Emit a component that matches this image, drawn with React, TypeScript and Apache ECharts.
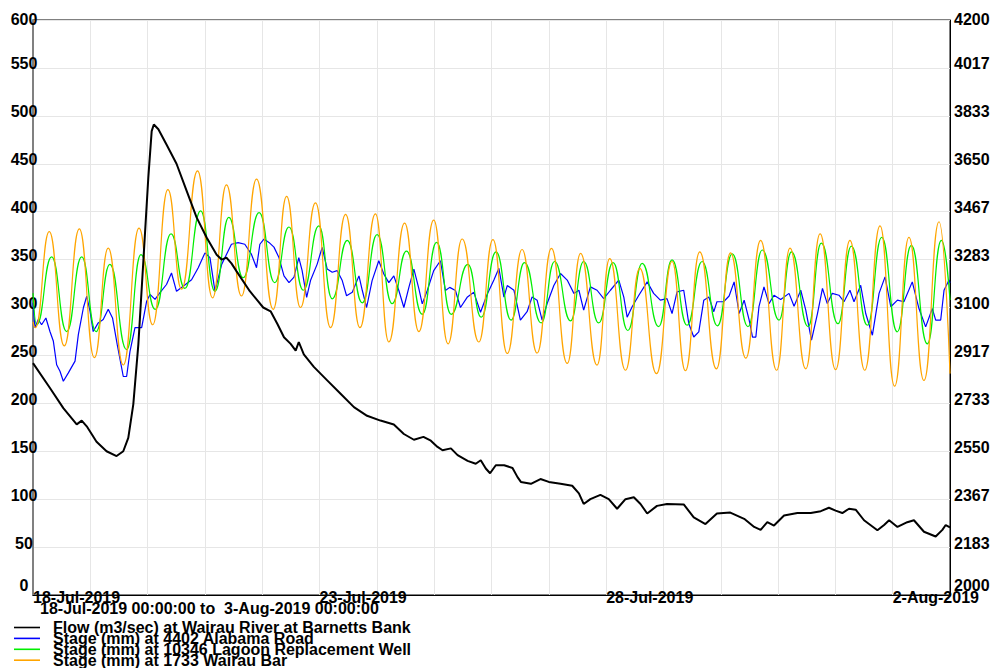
import React, { useEffect, useRef } from 'react';
import * as echarts from 'echarts';

const FONT = '"Liberation Sans", Arial, Helvetica, sans-serif';

const xTickLabels = ['18-Jul-2019', '23-Jul-2019', '28-Jul-2019', '2-Aug-2019'];
const periodText = '18-Jul-2019 00:00:00 to  3-Aug-2019 00:00:00';
const seriesNames = [
  'Flow (m3/sec) at Wairau River at Barnetts Bank',
  'Stage (mm) at 4402 Alabama Road',
  'Stage (mm) at 10346 Lagoon Replacement Well',
  'Stage (mm) at 1733 Wairau Bar',
];
const seriesColors = ['#000000', '#0000ff', '#00ee00', '#ffa500'];

// hours after 18-Jul-2019 00:00
const flowHours = [0, 7.1, 12.7, 18.3, 20.4, 22.5, 26.6, 30.8, 35, 37.8, 39.9, 42, 44.1, 46.2, 48.3, 49.7, 50.6, 52.5, 55.9, 60.1, 64.3, 68.5, 72.7, 76.9, 79, 81, 83.1, 85.2, 90.8, 96.4, 99.5, 102.3, 105.1, 107.9, 110, 111.3, 113.4, 117.6, 123.2, 128.8, 134.4, 139.9, 145.5, 151.1, 155.3, 159.5, 163.5, 166.6, 169.4, 171.5, 175, 177.8, 182, 185.4, 187.5, 189.6, 191.4, 193.8, 197.3, 200.8, 202.9, 204.3, 208.5, 212.5, 216, 220.9, 225.8, 228.6, 230.6, 233.4, 237.6, 241.1, 244.6, 248.1, 251.6, 254.4, 257.2, 261.3, 265.5, 272.5, 276.7, 281.6, 286.4, 292, 297.8, 302, 304.7, 307.5, 310.3, 314.5, 320.1, 325.7, 329.9, 333.3, 336.1, 338.9, 341.7, 344.5, 348, 353.6, 356.4, 358.5, 362, 366.1, 368.9, 373.1, 378, 380.8, 382.2, 384];
const flowValues = [242, 216, 195, 178, 182, 176, 160, 150, 145, 150, 164, 199, 261, 348, 436, 484, 491, 486, 470, 450, 422, 394, 373, 355, 350, 352, 346, 338, 317, 300, 296, 283, 269, 262, 255, 264, 251, 238, 224, 210, 196, 187, 182, 178, 168, 162, 165, 161, 154.5, 151, 153, 146, 140, 137, 140.6, 132, 127, 135.4, 135.4, 132.6, 123, 118, 116, 121, 118, 116, 114, 106, 95, 100, 104.5, 100, 90, 100, 102, 95, 85, 93, 95, 94.5, 81, 74, 85, 86, 79.5, 71, 68, 76, 72.5, 83, 85.5, 85.5, 87.5, 91, 88, 85.5, 90, 89, 78, 67.5, 73, 78, 71, 76, 78, 66, 61, 68, 73, 70.5];

const alabamaHours = [
  0, 0.8, 2.2, 3.6, 5.4, 7.1, 8.5, 9.9, 11.3, 12.7,
  14.8, 17.6, 19, 21.1, 22.5, 23.9, 25.2, 27.3, 29.4, 31.5,
  33.3, 35.3, 37.8, 39.2, 40.6, 42.7, 45.5, 47.6, 49, 51.1,
  53.1, 55.9, 58, 60.1, 62.9, 66.4, 69.2, 72, 74.1, 76.2,
  79, 83.1, 85.9, 88.7, 91.5, 93.6, 95, 96.7, 98.8, 100.9,
  103, 105.1, 107.2, 109.3, 111.3, 112.7, 114.6, 116.2, 119, 121.1,
  123.2, 125.3, 127.4, 129.5, 131.3, 133.7, 136.5, 137.9, 139.7, 142,
  144.8, 146.9, 149, 151.1, 153.2, 155.3, 157.4, 159.5, 161.6, 163,
  165.1, 167.8, 170.6, 172.7, 174.5, 176.9, 179, 181.8, 184.6, 187.4,
  190.2, 193, 195.1, 197.2, 198.6, 201.4, 204.1, 206.9, 209, 211.1,
  213.2, 215.3, 218.1, 220.9, 223.7, 226.5, 228.6, 230.6, 233.4, 236.2,
  239, 241.8, 245.3, 247.4, 248.8, 250.9, 253.7, 257.2, 259.9, 262.7,
  265.5, 267.6, 269.7, 272.5, 274.6, 276.7, 278.8, 280.9, 283, 285.1,
  286.4, 289.2, 291.5, 293.6, 295.7, 297.8, 299.9, 301.3, 302.7, 304,
  306.1, 308.2, 310.3, 313.1, 316.6, 318.7, 321.5, 323.6, 326, 328.5,
  330.6, 332.6, 334.7, 337.5, 339.6, 342.1, 343.8, 346.6, 348.7, 351.5,
  354.3, 356.8, 359.2, 362, 364.7, 368.2, 371, 373.8, 376.6, 378,
  380.1, 381.5, 383.6, 384,
];
const alabamaValues = [
  3118, 3023, 3054, 3034, 3060, 3008, 2972, 2881, 2856, 2818,
  2850, 2895, 2997, 3099, 3143, 3085, 3008, 3041, 3054, 3093,
  3060, 2957, 2836, 2836, 2931, 3023, 3023, 3124, 3150, 3131,
  3156, 3188, 3232, 3162, 3181, 3206, 3252, 3309, 3291, 3162,
  3265, 3342, 3348, 3342, 3303, 3252, 3342, 3362, 3349, 3331,
  3291, 3221, 3195, 3216, 3291, 3241, 3139, 3203, 3266, 3330,
  3247, 3235, 3241, 3203, 3145, 3158, 3221, 3165, 3100, 3203,
  3279, 3228, 3195, 3221, 3165, 3100, 3177, 3247, 3171, 3114,
  3165, 3241, 3279, 3165, 3177, 3165, 3100, 3139, 3158, 3082,
  3151, 3205, 3250, 3140, 3184, 3166, 3052, 3084, 3140, 3128,
  3052, 3115, 3184, 3230, 3205, 3154, 3166, 3090, 3179, 3166,
  3134, 3166, 3205, 3140, 3063, 3103, 3147, 3198, 3154, 3128,
  3134, 3077, 3160, 3166, 3039, 2987, 3007, 3128, 3140, 3084,
  3122, 3122, 3144, 3198, 3077, 3128, 3052, 2987, 2987, 3103,
  3179, 3115, 3147, 3131, 3154, 3105, 3166, 3090, 2975, 3077,
  3173, 3115, 3154, 3147, 3122, 3166, 3122, 3185, 3077, 2994,
  3154, 3217, 3103, 3128, 3122, 3198, 3096, 3026, 3096, 3052,
  3052, 3166, 3205, 3195,
];

const lagoonHours = [0, 1.5, 7.8, 14.1, 20.4, 26.4, 32.2, 39.2, 45.2, 51.2, 57.8, 63.6, 70.2, 76.2, 82, 88, 94.7, 101.2, 107.2, 113.2, 119.7, 125.3, 131.6, 137.9, 144.1, 150.4, 156.4, 163, 169, 175.1, 182.1, 187.7, 193.9, 200.2, 205.8, 212.8, 218.4, 225.1, 230.6, 236.9, 242.9, 249.1, 255.1, 262, 267.6, 273.9, 280.2, 286.6, 292.8, 299.4, 305.4, 312.4, 317.6, 324.6, 330.1, 337.1, 342.7, 349.4, 355.4, 361.9, 367.8, 374.5, 380.4, 384];
const lagoonValues = [3155, 3034, 3294, 3008, 3294, 3008, 3265, 2939, 3302, 3093, 3382, 3173, 3470, 3162, 3445, 3214, 3463, 3195, 3408, 3166, 3412, 3133, 3357, 3118, 3379, 3115, 3316, 3074, 3349, 3074, 3265, 3063, 3313, 3052, 3272, 3041, 3276, 3049, 3276, 3041, 3272, 3012, 3269, 3027, 3282, 3032, 3276, 3030, 3305, 3027, 3320, 3052, 3313, 3027, 3346, 3038, 3335, 3032, 3368, 3007, 3338, 2961, 3357, 3129];

const barHours = [0, 1, 6.8, 13.1, 19.4, 25.7, 31.5, 37.8, 44.4, 50.1, 56.5, 62.2, 68.9, 75.2, 81, 87.3, 93.6, 100.6, 106.2, 112, 118.3, 124.6, 130.9, 136.9, 143.4, 149, 155.6, 161.6, 167.8, 173.8, 179.7, 186.7, 192.6, 198.6, 204.8, 211.1, 217.1, 223.7, 229.3, 236.2, 241.5, 248.1, 254.1, 261.1, 267.6, 273.2, 279.2, 286.2, 292.1, 298.5, 304.7, 311.4, 317, 323.6, 329.6, 336.1, 342.1, 348.3, 354.7, 360.8, 366.8, 373.1, 379.4, 384];
const barValues = [3045, 3023, 3390, 2953, 3401, 2908, 3327, 2880, 3404, 3034, 3551, 3170, 3623, 3137, 3569, 3144, 3591, 3093, 3525, 3100, 3500, 3023, 3456, 3023, 3458, 2968, 3423, 3008, 3434, 2961, 3362, 2968, 3360, 2924, 3322, 2926, 3326, 2886, 3307, 2880, 3287, 2860, 3250, 2847, 3276, 2858, 3313, 2865, 3309, 2906, 3357, 2860, 3327, 2865, 3382, 2862, 3357, 2860, 3412, 2799, 3368, 2821, 3428, 2847];

function pairs(h: number[], v: number[]) {
  const n = Math.min(h.length, v.length);
  const out: number[][] = [];
  for (let i = 0; i < n; i++) out.push([h[i], v[i]]);
  return out;
}

const labelFont = { fontSize: 16, fontWeight: 'bold' as const, fontFamily: FONT, color: '#000' };

function yRich() {
  return {
    n: { ...labelFont, lineHeight: 8 },
    t: { ...labelFont, lineHeight: 2 },
    b: { ...labelFont, lineHeight: 20 },
  };
}

const LEGEND_TOP = 619.5;
const LEGEND_STEP = 10.9;

export default function App() {
  const ref = useRef<HTMLDivElement>(null);
  useEffect(() => {
    if (!ref.current) return;
    const chart = echarts.init(ref.current, undefined, { renderer: 'svg' });
    const legends = seriesNames.map((name, i) => ({
      orient: 'vertical',
      left: 14,
      top: LEGEND_TOP + i * LEGEND_STEP,
      padding: 0,
      icon: 'rect',
      itemWidth: 26,
      itemHeight: 1.6,
      itemGap: 0,
      data: [name],
      textStyle: { ...labelFont, padding: [0, 0, 0, 8] },
    }));
    const option: any = {
      animation: false,
      backgroundColor: '#fff',
      grid: { left: 33, right: 44, top: 20, bottom: 73, show: true, borderColor: '#000', borderWidth: 1 },
      legend: legends,
      graphic: [
        {
          type: 'text',
          left: 40,
          top: 600,
          style: { text: periodText, font: `bold 16px ${FONT}`, fill: '#000' },
        },
      ],
      xAxis: {
        type: 'value',
        min: 0,
        max: 384,
        interval: 24,
        axisLine: { show: true, onZero: false, lineStyle: { color: '#000', width: 1 } },
        axisTick: { show: false },
        splitLine: { show: true, lineStyle: { color: '#e6e6e6', width: 1 } },
        axisLabel: {
          interval: 0,
          margin: -3.5,
          align: 'left',
          verticalAlign: 'top',
          lineHeight: 11,
          ...labelFont,
          formatter: (v: number) => (v % 120 === 0 ? xTickLabels[v / 120] ?? '' : ''),
        },
      },
      yAxis: [
        {
          type: 'value',
          min: 0,
          max: 600,
          interval: 50,
          position: 'left',
          axisLine: { show: true, lineStyle: { color: '#808080', width: 2 } },
          axisTick: { show: false },
          splitLine: { show: true, lineStyle: { color: '#e6e6e6', width: 1 } },
          axisLabel: {
            margin: 9,
            align: 'center',
            verticalAlign: 'bottom',
            formatter: (v: number) => (v === 600 ? `{t|${v}}` : v === 0 ? `{b|${v}}` : `{n|${v}}`),
            rich: yRich(),
          },
        },
        {
          type: 'value',
          min: 2000,
          max: 4200,
          alignTicks: true,
          position: 'right',
          axisLine: { show: true, lineStyle: { color: '#000', width: 1 } },
          axisTick: { show: false },
          splitLine: { show: false },
          axisLabel: {
            margin: 4,
            align: 'left',
            verticalAlign: 'bottom',
            formatter: (v: number) => {
              const s = String(Math.round(v));
              return v >= 4199 ? `{t|${s}}` : v <= 2001 ? `{b|${s}}` : `{n|${s}}`;
            },
            rich: yRich(),
          },
        },
      ],
      series: [
        {
          name: seriesNames[0],
          type: 'line',
          yAxisIndex: 0,
          data: pairs(flowHours, flowValues),
          symbol: 'none',
          showSymbol: false,
          color: seriesColors[0],
          lineStyle: { color: seriesColors[0], width: 2 },
          z: 5,
        },
        {
          name: seriesNames[1],
          type: 'line',
          yAxisIndex: 1,
          data: pairs(alabamaHours, alabamaValues),
          symbol: 'none',
          showSymbol: false,
          color: seriesColors[1],
          lineStyle: { color: seriesColors[1], width: 1.2 },
          z: 2,
        },
        {
          name: seriesNames[2],
          type: 'line',
          yAxisIndex: 1,
          data: pairs(lagoonHours, lagoonValues),
          symbol: 'none',
          showSymbol: false,
          smooth: 0.5,
          smoothMonotone: 'x',
          color: seriesColors[2],
          lineStyle: { color: seriesColors[2], width: 1.2 },
          z: 3,
        },
        {
          name: seriesNames[3],
          type: 'line',
          yAxisIndex: 1,
          data: pairs(barHours, barValues),
          symbol: 'none',
          showSymbol: false,
          smooth: 0.5,
          smoothMonotone: 'x',
          color: seriesColors[3],
          lineStyle: { color: seriesColors[3], width: 1.2 },
          z: 4,
        },
      ],
    };
    chart.setOption(option);
    return () => chart.dispose();
  }, []);
  return (
    <div
      ref={ref}
      style={{ position: 'fixed', left: 0, top: 0, width: 994, height: 668, background: '#fff' }}
    />
  );
}
